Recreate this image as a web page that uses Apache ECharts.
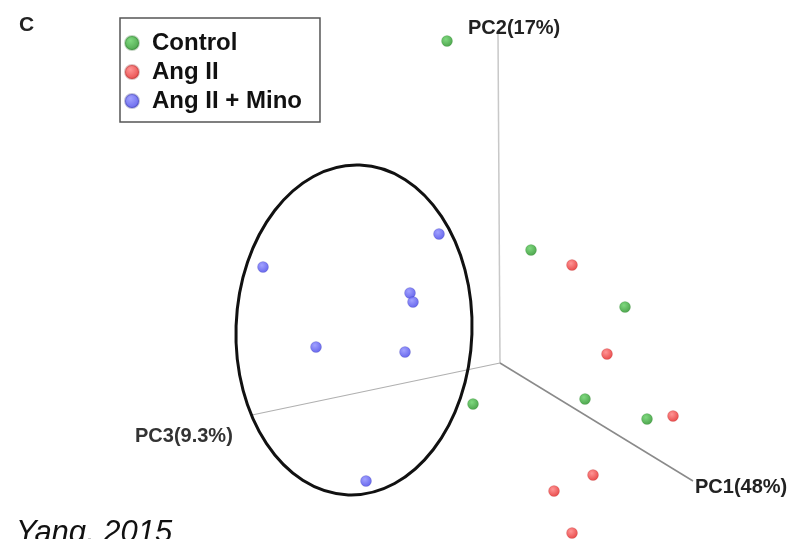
<!DOCTYPE html>
<html>
<head>
<meta charset="utf-8">
<script src="https://cdn.jsdelivr.net/npm/echarts@6/dist/echarts.min.js"></script>
<style>
  html, body { margin: 0; padding: 0; background: #fff; }
  #chart { width: 795px; height: 539px; }
</style>
</head>
<body>
<div id="chart"></div>
<script>
// projected PCA scores (2D view of the 3D plot)
const controlPts = [[447, 41], [531, 250], [625, 307], [585, 399], [647, 419], [473, 404]]
const angPts = [[572, 265], [607, 354], [673, 416], [593, 475], [554, 491], [572, 533]]
const minoPts = [[439, 234], [263, 267], [410, 293], [413, 302], [316, 347], [405, 352], [366, 481]]

// 3D axis lines from the origin
const origin = [500, 363]
const pc1End = [693, 481]
const pc2End = [498, 34]
const pc3End = [252, 415]

// ellipse around Ang II + Mino group: center, radii
const ellipseCenter = [354, 330]
const ellipseRadii = [118, 165]

const chart = echarts.init(document.getElementById('chart'))

const ball = (c0, c1) => ({
  type: 'radial', x: 0.4, y: 0.35, r: 0.7,
  colorStops: [{ offset: 0, color: c0 }, { offset: 1, color: c1 }]
})

const axisLine = (end, color, width) => ({
  type: 'line',
  data: [origin, end],
  symbol: 'none',
  silent: true,
  lineStyle: { color: color, width: width },
  z: 1
})

const option = {
  animation: false,
  grid: { left: 0, right: 0, top: 0, bottom: 0 },
  xAxis: { type: 'value', min: 0, max: 795, show: false },
  yAxis: { type: 'value', min: 0, max: 539, inverse: true, show: false },
  legend: {
    orient: 'vertical',
    left: 120,
    top: 18,
    padding: [12, 18, 8, 4],
    itemGap: 3,
    itemWidth: 14,
    itemHeight: 14,
    borderColor: '#555',
    borderWidth: 1.5,
    borderRadius: 0,
    icon: 'circle',
    textStyle: {
      fontFamily: 'Liberation Sans', fontWeight: 'bold', fontSize: 24, lineHeight: 26,
      color: '#111', padding: [0, 0, 0, 8]
    },
    data: ['Control', 'Ang II', 'Ang II + Mino']
  },
  graphic: [
    { type: 'text', left: 19, top: 15, style: { text: 'C', font: 'bold 21px "Liberation Sans"', fill: '#222' } },
    { type: 'text', left: 468, top: 18, style: { text: 'PC2(17%)', font: 'bold 20px "Liberation Sans"', fill: '#222' } },
    { type: 'text', left: 695, top: 477, style: { text: 'PC1(48%)', font: 'bold 20px "Liberation Sans"', fill: '#222' } },
    { type: 'text', left: 135, top: 426, style: { text: 'PC3(9.3%)', font: 'bold 20px "Liberation Sans"', fill: '#333' } },
    { type: 'text', left: 16, top: 518, style: { text: 'Yang, 2015', font: 'italic 31px "Liberation Sans"', fill: '#111' } }
  ],
  series: [
    axisLine(pc2End, '#c8c8c8', 1.5),
    axisLine(pc3End, '#b0b0b0', 1.2),
    axisLine(pc1End, '#8a8a8a', 1.5),
    {
      type: 'custom',
      silent: true,
      data: [ellipseCenter.concat(ellipseRadii)],
      renderItem: (params, api) => {
        const c = api.coord([api.value(0), api.value(1)])
        const s = api.size([api.value(2), api.value(3)])
        return {
          type: 'ellipse',
          x: c[0],
          y: c[1],
          rotation: -0.035,
          shape: { cx: 0, cy: 0, rx: s[0], ry: s[1] },
          style: { fill: 'none', stroke: '#111', lineWidth: 3 }
        }
      },
      z: 2
    },
    {
      name: 'Control', type: 'scatter', data: controlPts, symbolSize: 11,
      itemStyle: { color: ball('#5fcf5f', '#1d8a1d'), borderColor: 'rgba(0,80,0,0.3)', borderWidth: 0.5 }, z: 3
    },
    {
      name: 'Ang II', type: 'scatter', data: angPts, symbolSize: 11,
      itemStyle: { color: ball('#ff7a7a', '#e01818'), borderColor: 'rgba(120,0,0,0.3)', borderWidth: 0.5 }, z: 3
    },
    {
      name: 'Ang II + Mino', type: 'scatter', data: minoPts, symbolSize: 11,
      itemStyle: { color: ball('#8a8aff', '#3c3ce6'), borderColor: 'rgba(0,0,100,0.3)', borderWidth: 0.5 }, z: 3
    }
  ]
}

chart.setOption(option)
</script>
</body>
</html>
